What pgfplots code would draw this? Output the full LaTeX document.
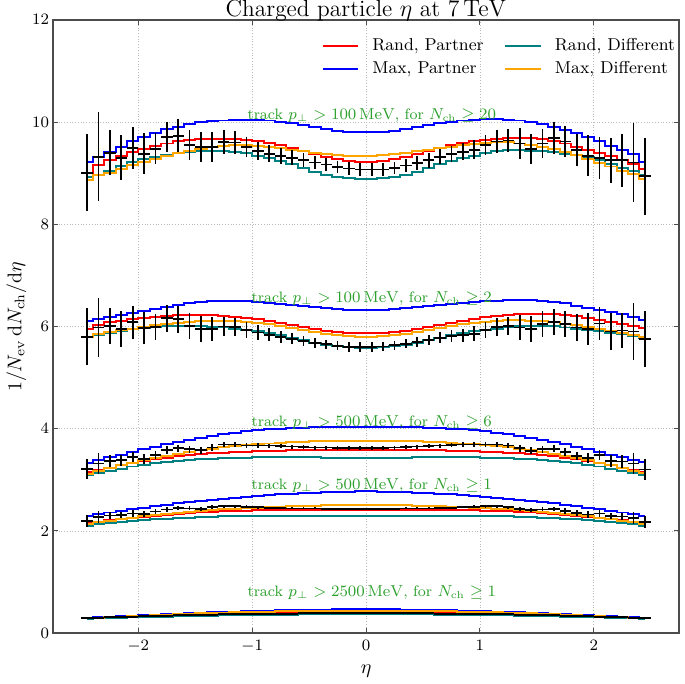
\documentclass[border=0pt]{standalone}
\usepackage{pgfplots}
\usepackage{pgfplotstable}
\pgfplotsset{compat=1.18}
\definecolor{cRed}{RGB}{255,0,0}
\definecolor{cBlue}{RGB}{0,0,255}
\definecolor{cTeal}{RGB}{0,128,128}
\definecolor{cOrange}{RGB}{255,165,0}
\definecolor{cGreen}{RGB}{44,160,44}
% group 1: pT>100 MeV, Nch>=20
\pgfplotstableread{
x r b t o d e
-2.45 9.01 9.22 8.93 8.86 9.01 0.76
-2.35 9.16 9.32 8.97 8.96 9.32 0.87
-2.25 9.26 9.42 9.05 9.00 9.40 0.44
-2.15 9.33 9.52 9.14 9.08 9.30 0.44
-2.05 9.42 9.62 9.21 9.15 9.49 0.41
-1.95 9.48 9.71 9.27 9.22 9.38 0.40
-1.85 9.54 9.79 9.32 9.28 9.48 0.31
-1.75 9.58 9.86 9.36 9.33 9.71 0.30
-1.65 9.62 9.91 9.39 9.39 9.73 0.32
-1.55 9.64 9.96 9.41 9.44 9.55 0.29
-1.45 9.66 10.00 9.43 9.48 9.51 0.29
-1.35 9.67 10.02 9.44 9.52 9.51 0.30
-1.25 9.67 10.03 9.44 9.54 9.61 0.23
-1.15 9.66 10.04 9.42 9.55 9.60 0.22
-1.05 9.64 10.04 9.39 9.55 9.51 0.20
-0.95 9.62 10.04 9.34 9.54 9.43 0.18
-0.85 9.59 10.03 9.29 9.52 9.38 0.17
-0.75 9.55 10.01 9.23 9.49 9.34 0.16
-0.65 9.50 9.98 9.17 9.46 9.30 0.15
-0.55 9.44 9.94 9.10 9.43 9.26 0.14
-0.45 9.38 9.90 9.03 9.40 9.21 0.13
-0.35 9.32 9.86 8.97 9.37 9.17 0.13
-0.25 9.27 9.83 8.93 9.35 9.12 0.12
-0.15 9.24 9.81 8.90 9.34 9.09 0.12
-0.05 9.22 9.80 8.89 9.34 9.07 0.12
0.05 9.22 9.80 8.89 9.34 9.07 0.12
0.15 9.24 9.81 8.90 9.35 9.07 0.12
0.25 9.27 9.83 8.93 9.37 9.10 0.12
0.35 9.32 9.86 8.97 9.40 9.15 0.13
0.45 9.38 9.90 9.03 9.43 9.20 0.13
0.55 9.44 9.94 9.10 9.46 9.25 0.14
0.65 9.50 9.98 9.17 9.49 9.32 0.15
0.75 9.55 10.01 9.23 9.52 9.38 0.16
0.85 9.59 10.03 9.29 9.55 9.42 0.17
0.95 9.62 10.04 9.34 9.57 9.46 0.18
1.05 9.65 10.05 9.39 9.59 9.55 0.20
1.15 9.67 10.05 9.43 9.60 9.62 0.22
1.25 9.69 10.04 9.45 9.60 9.64 0.23
1.35 9.69 10.03 9.45 9.58 9.58 0.30
1.45 9.68 10.00 9.44 9.55 9.47 0.29
1.55 9.66 9.96 9.43 9.51 9.58 0.29
1.65 9.63 9.90 9.41 9.47 9.69 0.32
1.75 9.58 9.84 9.38 9.42 9.62 0.30
1.85 9.52 9.79 9.35 9.35 9.45 0.31
1.95 9.46 9.71 9.31 9.27 9.34 0.40
2.05 9.40 9.62 9.25 9.20 9.29 0.41
2.15 9.33 9.54 9.18 9.13 9.25 0.44
2.25 9.25 9.45 9.11 9.05 9.25 0.52
2.35 9.18 9.37 9.04 8.98 9.21 0.77
2.45 9.08 9.21 8.96 8.89 8.94 0.75
}\gA
% group 2: pT>100 MeV, Nch>=2
\pgfplotstableread{
x r b t o d e
-2.45 5.95 6.10 5.80 5.80 5.80 0.56
-2.35 6.03 6.14 5.84 5.85 5.98 0.57
-2.25 6.08 6.19 5.88 5.89 6.01 0.35
-2.15 6.11 6.22 5.92 5.93 5.95 0.36
-2.05 6.14 6.26 5.95 5.96 6.08 0.33
-1.95 6.17 6.31 5.97 5.99 5.97 0.32
-1.85 6.19 6.35 5.99 6.02 5.99 0.26
-1.75 6.21 6.39 6.00 6.05 6.16 0.26
-1.65 6.22 6.42 6.01 6.07 6.14 0.26
-1.55 6.23 6.45 6.01 6.09 6.01 0.26
-1.45 6.23 6.47 6.00 6.10 5.95 0.26
-1.35 6.22 6.49 5.99 6.11 5.95 0.24
-1.25 6.21 6.50 5.98 6.11 6.00 0.18
-1.15 6.19 6.50 5.96 6.10 5.99 0.18
-1.05 6.17 6.49 5.94 6.09 5.93 0.16
-0.95 6.14 6.48 5.91 6.07 5.88 0.14
-0.85 6.11 6.46 5.87 6.04 5.84 0.13
-0.75 6.07 6.44 5.83 6.01 5.80 0.12
-0.65 6.03 6.42 5.78 5.97 5.76 0.11
-0.55 5.99 6.40 5.73 5.93 5.72 0.10
-0.45 5.95 6.38 5.68 5.89 5.68 0.10
-0.35 5.92 6.36 5.64 5.86 5.65 0.09
-0.25 5.90 6.34 5.61 5.83 5.62 0.09
-0.15 5.88 6.33 5.59 5.81 5.60 0.09
-0.05 5.87 6.33 5.58 5.80 5.60 0.09
0.05 5.87 6.33 5.58 5.80 5.60 0.09
0.15 5.88 6.33 5.59 5.81 5.61 0.09
0.25 5.90 6.34 5.61 5.83 5.63 0.09
0.35 5.92 6.36 5.64 5.86 5.66 0.09
0.45 5.95 6.38 5.68 5.89 5.70 0.10
0.55 5.99 6.40 5.73 5.93 5.74 0.10
0.65 6.03 6.42 5.78 5.97 5.78 0.11
0.75 6.07 6.44 5.83 6.01 5.81 0.12
0.85 6.11 6.46 5.87 6.04 5.83 0.13
0.95 6.15 6.48 5.91 6.07 5.86 0.14
1.05 6.18 6.49 5.94 6.09 5.93 0.16
1.15 6.21 6.50 5.96 6.11 5.99 0.18
1.25 6.23 6.51 5.98 6.12 6.01 0.18
1.35 6.24 6.52 6.00 6.12 5.98 0.24
1.45 6.25 6.51 6.01 6.11 5.95 0.26
1.55 6.25 6.49 6.01 6.10 6.05 0.26
1.65 6.24 6.47 6.00 6.08 6.09 0.26
1.75 6.22 6.45 5.98 6.05 6.05 0.26
1.85 6.20 6.41 5.96 6.02 5.98 0.26
1.95 6.17 6.37 5.94 5.99 5.95 0.32
2.05 6.13 6.33 5.91 5.95 6.06 0.33
2.15 6.09 6.29 5.88 5.91 5.90 0.36
2.25 6.05 6.24 5.85 5.87 5.92 0.35
2.35 6.01 6.18 5.82 5.83 5.90 0.55
2.45 5.97 6.12 5.78 5.79 5.75 0.55
}\gB
% group 3: pT>500 MeV, Nch>=6
\pgfplotstableread{
x r b t o d e
-2.45 3.15 3.33 3.10 3.12 3.21 0.20
-2.35 3.19 3.38 3.14 3.17 3.32 0.21
-2.25 3.24 3.44 3.18 3.23 3.37 0.12
-2.15 3.28 3.49 3.22 3.28 3.38 0.11
-2.05 3.32 3.55 3.26 3.33 3.45 0.10
-1.95 3.36 3.60 3.29 3.38 3.40 0.10
-1.85 3.40 3.65 3.32 3.43 3.49 0.08
-1.75 3.43 3.70 3.35 3.47 3.58 0.08
-1.65 3.46 3.74 3.37 3.51 3.62 0.07
-1.55 3.48 3.78 3.39 3.55 3.60 0.07
-1.45 3.50 3.82 3.40 3.58 3.58 0.07
-1.35 3.52 3.86 3.41 3.61 3.63 0.07
-1.25 3.53 3.89 3.42 3.64 3.69 0.05
-1.15 3.54 3.92 3.43 3.66 3.69 0.05
-1.05 3.55 3.95 3.43 3.68 3.67 0.05
-0.95 3.56 3.97 3.44 3.70 3.67 0.05
-0.85 3.57 3.99 3.44 3.71 3.67 0.04
-0.75 3.57 4.00 3.44 3.72 3.66 0.04
-0.65 3.58 4.01 3.44 3.73 3.65 0.04
-0.55 3.58 4.02 3.44 3.74 3.64 0.04
-0.45 3.58 4.03 3.44 3.75 3.63 0.04
-0.35 3.58 4.03 3.43 3.75 3.63 0.04
-0.25 3.58 4.04 3.43 3.76 3.62 0.04
-0.15 3.58 4.04 3.43 3.76 3.62 0.04
-0.05 3.58 4.04 3.43 3.76 3.62 0.04
0.05 3.58 4.04 3.43 3.76 3.62 0.04
0.15 3.58 4.04 3.43 3.76 3.62 0.04
0.25 3.58 4.04 3.43 3.76 3.63 0.04
0.35 3.58 4.03 3.43 3.75 3.64 0.04
0.45 3.58 4.03 3.44 3.75 3.65 0.04
0.55 3.58 4.02 3.44 3.74 3.66 0.04
0.65 3.58 4.01 3.44 3.73 3.67 0.04
0.75 3.57 4.00 3.44 3.72 3.68 0.04
0.85 3.57 3.99 3.44 3.71 3.69 0.04
0.95 3.56 3.97 3.44 3.70 3.69 0.05
1.05 3.55 3.95 3.43 3.68 3.69 0.05
1.15 3.54 3.92 3.43 3.66 3.69 0.05
1.25 3.53 3.89 3.42 3.64 3.67 0.05
1.35 3.52 3.86 3.41 3.61 3.62 0.07
1.45 3.50 3.82 3.40 3.58 3.57 0.07
1.55 3.48 3.78 3.39 3.55 3.60 0.07
1.65 3.46 3.74 3.37 3.51 3.61 0.07
1.75 3.43 3.70 3.35 3.47 3.55 0.08
1.85 3.40 3.65 3.32 3.43 3.47 0.08
1.95 3.36 3.60 3.29 3.38 3.42 0.10
2.05 3.32 3.55 3.26 3.33 3.48 0.10
2.15 3.28 3.49 3.22 3.28 3.37 0.11
2.25 3.24 3.44 3.18 3.23 3.36 0.12
2.35 3.20 3.39 3.14 3.18 3.32 0.21
2.45 3.16 3.35 3.10 3.13 3.20 0.20
}\gC
% group 4: pT>500 MeV, Nch>=1
\pgfplotstableread{
x r b t o d e
-2.45 2.15 2.30 2.10 2.14 2.20 0.12
-2.35 2.18 2.33 2.13 2.17 2.27 0.12
-2.25 2.21 2.36 2.15 2.20 2.30 0.07
-2.15 2.24 2.39 2.17 2.23 2.31 0.06
-2.05 2.26 2.42 2.19 2.26 2.34 0.06
-1.95 2.28 2.45 2.21 2.29 2.33 0.06
-1.85 2.30 2.48 2.23 2.31 2.38 0.05
-1.75 2.32 2.51 2.24 2.33 2.42 0.05
-1.65 2.33 2.54 2.25 2.35 2.45 0.04
-1.55 2.35 2.56 2.26 2.37 2.44 0.04
-1.45 2.36 2.59 2.27 2.39 2.43 0.04
-1.35 2.37 2.61 2.28 2.40 2.46 0.04
-1.25 2.38 2.63 2.29 2.42 2.48 0.03
-1.15 2.39 2.65 2.29 2.43 2.48 0.03
-1.05 2.39 2.67 2.30 2.44 2.47 0.03
-0.95 2.40 2.69 2.30 2.45 2.46 0.03
-0.85 2.40 2.70 2.30 2.46 2.45 0.02
-0.75 2.40 2.72 2.30 2.47 2.45 0.02
-0.65 2.41 2.73 2.30 2.48 2.44 0.02
-0.55 2.41 2.74 2.30 2.49 2.44 0.02
-0.45 2.41 2.75 2.30 2.49 2.44 0.02
-0.35 2.41 2.76 2.30 2.50 2.43 0.02
-0.25 2.41 2.77 2.30 2.50 2.43 0.02
-0.15 2.41 2.77 2.30 2.50 2.43 0.02
-0.05 2.41 2.78 2.30 2.50 2.43 0.02
0.05 2.41 2.78 2.30 2.50 2.43 0.02
0.15 2.41 2.77 2.30 2.50 2.43 0.02
0.25 2.41 2.77 2.30 2.50 2.43 0.02
0.35 2.41 2.76 2.30 2.50 2.44 0.02
0.45 2.41 2.75 2.30 2.49 2.44 0.02
0.55 2.41 2.74 2.30 2.49 2.44 0.02
0.65 2.41 2.73 2.30 2.48 2.45 0.02
0.75 2.40 2.72 2.30 2.47 2.45 0.02
0.85 2.40 2.70 2.30 2.46 2.46 0.02
0.95 2.40 2.69 2.30 2.45 2.47 0.03
1.05 2.39 2.67 2.30 2.44 2.48 0.03
1.15 2.39 2.65 2.29 2.43 2.48 0.03
1.25 2.38 2.63 2.29 2.42 2.46 0.03
1.35 2.37 2.61 2.28 2.40 2.43 0.04
1.45 2.36 2.59 2.27 2.39 2.41 0.04
1.55 2.35 2.56 2.26 2.37 2.42 0.04
1.65 2.33 2.54 2.25 2.35 2.43 0.04
1.75 2.32 2.51 2.24 2.33 2.39 0.05
1.85 2.30 2.48 2.23 2.31 2.35 0.05
1.95 2.28 2.45 2.21 2.29 2.32 0.06
2.05 2.26 2.42 2.19 2.26 2.34 0.06
2.15 2.24 2.39 2.17 2.23 2.29 0.06
2.25 2.21 2.36 2.15 2.20 2.28 0.07
2.35 2.18 2.33 2.13 2.17 2.25 0.12
2.45 2.15 2.30 2.10 2.14 2.17 0.12
}\gD
% group 5: pT>2500 MeV, Nch>=1
\pgfplotstableread{
x r b t o d e
-2.45 0.29 0.30 0.28 0.29 0.29 0.01
-2.35 0.30 0.31 0.29 0.30 0.30 0.01
-2.25 0.31 0.32 0.29 0.31 0.31 0.01
-2.15 0.31 0.33 0.30 0.32 0.31 0.01
-2.05 0.32 0.34 0.31 0.33 0.32 0.01
-1.95 0.33 0.35 0.31 0.34 0.33 0.01
-1.85 0.34 0.36 0.32 0.35 0.33 0.01
-1.75 0.35 0.37 0.32 0.36 0.34 0.01
-1.65 0.35 0.38 0.33 0.37 0.35 0.01
-1.55 0.36 0.39 0.33 0.38 0.35 0.01
-1.45 0.37 0.40 0.34 0.39 0.36 0.01
-1.35 0.37 0.41 0.34 0.39 0.36 0.01
-1.25 0.38 0.42 0.35 0.40 0.37 0.01
-1.15 0.38 0.42 0.35 0.41 0.37 0.01
-1.05 0.39 0.43 0.35 0.41 0.37 0.01
-0.95 0.39 0.44 0.36 0.42 0.38 0.01
-0.85 0.39 0.44 0.36 0.42 0.38 0.01
-0.75 0.40 0.45 0.36 0.43 0.38 0.01
-0.65 0.40 0.45 0.36 0.43 0.38 0.01
-0.55 0.40 0.46 0.37 0.43 0.39 0.01
-0.45 0.41 0.46 0.37 0.44 0.39 0.01
-0.35 0.41 0.46 0.37 0.44 0.39 0.01
-0.25 0.41 0.47 0.37 0.44 0.39 0.01
-0.15 0.41 0.47 0.37 0.44 0.39 0.01
-0.05 0.41 0.47 0.37 0.44 0.39 0.01
0.05 0.41 0.47 0.37 0.44 0.39 0.01
0.15 0.41 0.47 0.37 0.44 0.39 0.01
0.25 0.41 0.47 0.37 0.44 0.39 0.01
0.35 0.41 0.46 0.37 0.44 0.39 0.01
0.45 0.41 0.46 0.37 0.44 0.39 0.01
0.55 0.40 0.46 0.37 0.43 0.39 0.01
0.65 0.40 0.45 0.36 0.43 0.38 0.01
0.75 0.40 0.45 0.36 0.43 0.38 0.01
0.85 0.39 0.44 0.36 0.42 0.38 0.01
0.95 0.39 0.44 0.36 0.42 0.38 0.01
1.05 0.39 0.43 0.35 0.41 0.37 0.01
1.15 0.38 0.42 0.35 0.41 0.37 0.01
1.25 0.38 0.42 0.35 0.40 0.37 0.01
1.35 0.37 0.41 0.34 0.39 0.36 0.01
1.45 0.37 0.40 0.34 0.39 0.36 0.01
1.55 0.36 0.39 0.33 0.38 0.35 0.01
1.65 0.35 0.38 0.33 0.37 0.35 0.01
1.75 0.35 0.37 0.32 0.36 0.34 0.01
1.85 0.34 0.36 0.32 0.35 0.33 0.01
1.95 0.33 0.35 0.31 0.34 0.33 0.01
2.05 0.32 0.34 0.31 0.33 0.32 0.01
2.15 0.31 0.33 0.30 0.32 0.31 0.01
2.25 0.31 0.32 0.29 0.31 0.31 0.01
2.35 0.30 0.31 0.29 0.30 0.30 0.01
2.45 0.29 0.30 0.28 0.29 0.29 0.01
}\gE

\pgfplotsset{
  mc/.style={line width=1pt, const plot mark mid, forget plot},
  dat/.style={draw=none, forget plot,
    error bars/.cd, x dir=both, x fixed=0.05, y dir=both, y explicit,
    error mark=none, error bar style={draw=black, line width=0.9pt, solid}},
}
\newcommand{\group}[1]{%
  \addplot[mc, cRed] table[x=x,y=r]{#1};
  \addplot[mc, cBlue] table[x=x,y=b]{#1};
  \addplot[mc, cTeal] table[x=x,y=t]{#1};
  \addplot[mc, cOrange] table[x=x,y=o]{#1};
  \addplot[dat] table[x=x,y=d,y error=e]{#1};
}

\begin{document}
\begin{tikzpicture}
\begin{axis}[
  scale only axis, width=316pt, height=309.5pt,
  xmin=-2.75, xmax=2.75, ymin=0, ymax=12,
  xtick={-2,-1,0,1,2}, ytick={0,2,4,6,8,10,12},
  grid=major, grid style={densely dotted, gray!55, line width=0.4pt},
  tick align=inside, major tick length=2.5pt,
  axis line style={draw=black!70, line width=1pt},
  tick style={black!70, line width=0.5pt},
  ticklabel style={font=\fontsize{8}{9.6}\selectfont},
  yticklabel style={xshift=1.5pt},
  title={Charged particle $\eta$ at $7\,\mathrm{TeV}$},
  title style={font=\fontsize{11.8}{13}\selectfont, at={(0.5,1)}, anchor=base, inner sep=0pt, yshift=-4.3pt},
  xlabel={$\eta$},
  ylabel={$1/N_\mathrm{ev}\,\mathrm{d}N_\mathrm{ch}/\mathrm{d}\eta$},
  xlabel shift=-0.5pt,
  ylabel shift=-4pt,
  label style={font=\fontsize{10}{12}\selectfont},
  legend columns=2,
  legend cell align=left,
  legend image code/.code={\draw[#1] (0pt,0pt) -- (18pt,0pt);},
  legend style={draw=none, fill=none, font=\fontsize{8.7}{10}\selectfont,
    at={(1.01,0.983)}, anchor=north east, row sep=0pt,
    /tikz/every odd column/.append style={column sep=4.5pt},
    /tikz/every even column/.append style={column sep=8.5pt}},
]
\addlegendimage{cRed, line width=1pt}
\addlegendentry{Rand, Partner}
\addlegendimage{cTeal, line width=1pt}
\addlegendentry{Rand, Different}
\addlegendimage{cBlue, line width=1pt}
\addlegendentry{Max, Partner}
\addlegendimage{cOrange, line width=1pt}
\addlegendentry{Max, Different}

\group{\gA}
\group{\gB}
\group{\gC}
\group{\gD}
\group{\gE}

\begin{scope}[every node/.style={text=cGreen, font=\fontsize{7.6}{9}\selectfont, inner sep=0pt}]
\node at (axis cs:0.05,10.13) {track $p_\perp > 100\,\mathrm{MeV}$, for $N_\mathrm{ch} \geq 20$};
\node at (axis cs:0.05,6.55) {track $p_\perp > 100\,\mathrm{MeV}$, for $N_\mathrm{ch} \geq 2$};
\node at (axis cs:0.05,4.11) {track $p_\perp > 500\,\mathrm{MeV}$, for $N_\mathrm{ch} \geq 6$};
\node at (axis cs:0.05,2.88) {track $p_\perp > 500\,\mathrm{MeV}$, for $N_\mathrm{ch} \geq 1$};
\node at (axis cs:0.05,0.80) {track $p_\perp > 2500\,\mathrm{MeV}$, for $N_\mathrm{ch} \geq 1$};
\end{scope}
\end{axis}
\end{tikzpicture}
\end{document}
